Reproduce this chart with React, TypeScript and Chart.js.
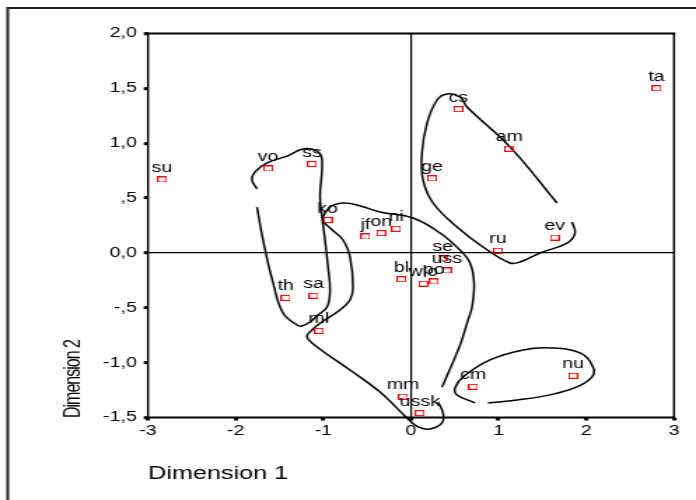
import { useEffect, useRef } from "react";
import { Chart, registerables } from "chart.js";

Chart.register(...registerables);

// ---- data ----
const pointLabels = ["ta", "cs", "am", "ge", "su", "vo", "ss", "ko", "jf", "on", "ni", "ru", "ev", "se", "uss", "bl", "wlo", "po", "th", "sa", "ml", "mm", "ussk", "cm", "nu"];
const dim1Values = [2.80, 0.54, 1.12, 0.24, -2.84, -1.63, -1.13, -0.95, -0.52, -0.34, -0.17, 0.99, 1.64, 0.36, 0.41, -0.11, 0.14, 0.26, -1.43, -1.11, -1.05, -0.09, 0.10, 0.71, 1.85];
const dim2Values = [1.50, 1.31, 0.95, 0.68, 0.67, 0.77, 0.81, 0.30, 0.15, 0.18, 0.22, 0.02, 0.14, -0.05, -0.16, -0.24, -0.28, -0.26, -0.41, -0.39, -0.71, -1.31, -1.46, -1.22, -1.12];

const xTickValues = [-3, -2, -1, 0, 1, 2, 3];
const xTickLabels = ["-3", "-2", "-1", "0", "1", "2", "3"];
const yTickValues = [-1.5, -1, -0.5, 0, 0.5, 1, 1.5, 2];
const yTickLabels = ["-1,5", "-1,0", "-,5", "0,0", ",5", "1,0", "1,5", "2,0"];

const xTitle = "Dimension 1";
const yTitle = "Dimension 2";

// hand-drawn group outlines (data coordinates)
const curve1X = [-1.757, -1.814, -1.779, -1.643, -1.414, -1.232, -1.072, -1.015, -1.038, -1.015, -0.981, -0.947, -0.924, -0.958, -1.061, -1.152, -1.243, -1.300, -1.460, -1.574, -1.688, -1.757];
const curve1Y = [0.583, 0.665, 0.738, 0.820, 0.883, 0.947, 0.929, 0.847, 0.509, 0.327, 0.117, -0.128, -0.338, -0.493, -0.566, -0.629, -0.666, -0.657, -0.547, -0.273, 0.118, 0.418];

const curve2X = [0.308, 0.365, 0.354, 0.217, 0.080, -0.046, -0.354, -0.696, -1.072, -1.186, -1.129, -1.015, -0.810, -0.696, -0.662, -0.696, -0.776, -0.924, -1.004, -0.924, -0.776, -0.616, -0.354, 0.023, 0.331, 0.559, 0.673, 0.719, 0.696, 0.650, 0.559, 0.354];
const curve2Y = [-1.358, -1.458, -1.549, -1.604, -1.586, -1.504, -1.268, -1.067, -0.857, -0.766, -0.702, -0.629, -0.520, -0.429, -0.311, -0.037, 0.118, 0.227, 0.300, 0.418, 0.455, 0.437, 0.373, 0.318, 0.182, 0.026, -0.092, -0.274, -0.493, -0.612, -0.840, -1.223];

const curve3X = [1.665, 1.129, 0.639, 0.559, 0.411, 0.297, 0.183, 0.125, 0.137, 0.251, 0.525, 0.821, 1.129, 1.243, 1.471, 1.779, 1.871, 1.836];
const curve3Y = [0.455, 0.966, 1.330, 1.421, 1.449, 1.394, 1.184, 0.911, 0.665, 0.455, 0.236, 0.054, -0.092, -0.083, -0.001, 0.090, 0.181, 0.282];

const curve4X = [0.730, 0.525, 0.502, 0.593, 0.901, 1.278, 1.585, 1.928, 2.076, 2.065, 1.893, 1.585, 1.209, 0.878];
const curve4Y = [-1.367, -1.294, -1.231, -1.130, -0.975, -0.884, -0.866, -0.911, -1.039, -1.130, -1.221, -1.294, -1.340, -1.367];

// ---- layout ----
const PAGE_W = 696;
const PAGE_H = 500;
const STRETCH = 1.4;
const LW = Math.round(PAGE_W / STRETCH);
const SX = PAGE_W / LW;
const FONT = '"Liberation Sans", Arial, Helvetica, sans-serif';

const toXY = (xs: number[], ys: number[]) => xs.map((x, i) => ({ x, y: ys[i] }));

export default function App() {
  const ref = useRef<HTMLCanvasElement>(null);

  useEffect(() => {
    const canvas = ref.current;
    if (!canvas) return;

    const marker = document.createElement("canvas");
    marker.width = 7;
    marker.height = 6;
    const mctx = marker.getContext("2d")!;
    mctx.strokeStyle = "#ff0000";
    mctx.lineWidth = 1;
    mctx.strokeRect(0.5, 0.5, 6, 5);

    const plotLeft = 148 / SX;
    const plotRight = 674 / SX;
    const plotTop = 33.5;
    const plotBottom = 417.5;

    const decorPlugin = {
      id: "decor",
      afterDatasetsDraw(chart: any) {
        const ctx = chart.ctx;
        const meta = chart.getDatasetMeta(0);
        ctx.save();
        ctx.font = `14px ${FONT}`;
        ctx.fillStyle = "#000";
        ctx.textAlign = "center";
        ctx.textBaseline = "alphabetic";
        meta.data.forEach((el: any, i: number) => {
          ctx.fillText(pointLabels[i], el.x, el.y - 7.5);
        });
        ctx.restore();
      },
      afterDraw(chart: any) {
        const ctx = chart.ctx;
        const { left, right, top, bottom } = chart.chartArea;
        ctx.save();
        ctx.strokeStyle = "#000";
        // plot frame
        ctx.lineWidth = 2;
        ctx.beginPath();
        ctx.moveTo(left - 1, top);
        ctx.lineTo(right + 1, top);
        ctx.moveTo(left - 1, bottom);
        ctx.lineTo(right + 1, bottom);
        ctx.stroke();
        ctx.lineWidth = 1.45;
        ctx.beginPath();
        ctx.moveTo(left, top);
        ctx.lineTo(left, bottom);
        ctx.moveTo(right, top);
        ctx.lineTo(right, bottom);
        ctx.stroke();
        // outer frame
        ctx.strokeStyle = "#222";
        ctx.lineWidth = 2;
        ctx.beginPath();
        ctx.moveTo(5.5, PAGE_H + 5);
        ctx.lineTo(5.5, 8);
        ctx.lineTo(LW + 5, 8);
        ctx.stroke();
        // titles
        ctx.fillStyle = "#000";
        ctx.font = `18px ${FONT}`;
        ctx.textAlign = "left";
        ctx.textBaseline = "alphabetic";
        ctx.fillText(xTitle, left, 479);
        ctx.translate(80 / SX, 418);
        ctx.rotate(-Math.PI / 2);
        ctx.font = `16px ${FONT}`;
        try {
          (ctx as any).letterSpacing = "-1px";
        } catch (e) {
          /* ignore */
        }
        ctx.fillText(yTitle, 0, 0);
        ctx.restore();
      },
    };

    const curveStyle = {
      showLine: true,
      pointRadius: 0,
      pointHoverRadius: 0,
      borderColor: "#000",
      borderWidth: 1.5,
      tension: 0.4,
      fill: false,
      clip: false as const,
    };

    const chart = new Chart(canvas, {
      type: "scatter",
      data: {
        datasets: [
          {
            data: toXY(dim1Values, dim2Values),
            pointStyle: marker as any,
            pointRadius: 4,
            pointHoverRadius: 4,
            showLine: false,
          },
          { data: toXY(curve1X, curve1Y), ...curveStyle },
          { data: toXY(curve2X, curve2Y), ...curveStyle },
          { data: toXY(curve3X, curve3Y), ...curveStyle },
          { data: toXY(curve4X, curve4Y), ...curveStyle },
        ],
      },
      options: {
        responsive: false,
        animation: false,
        devicePixelRatio: 1,
        events: [],
        layout: {
          padding: { left: 0, top: plotTop, right: LW - plotRight, bottom: 0 },
        },
        plugins: {
          legend: { display: false },
          tooltip: { enabled: false },
        },
        scales: {
          x: {
            type: "linear",
            min: -3,
            max: 3,
            afterFit: (s: any) => {
              s.height = PAGE_H - plotBottom;
            },
            border: { display: false },
            grid: {
              color: (c: any) => (c.tick && c.tick.value === 0 ? "#000" : "rgba(0,0,0,0)"),
              lineWidth: 1.2,
              tickColor: "#000",
              tickLength: 3,
              tickWidth: 3,
            },
            ticks: {
              stepSize: 1,
              color: "#000",
              padding: 2,
              maxRotation: 0,
              font: { family: FONT, size: 14 },
              callback: (v: any) => {
                const i = xTickValues.findIndex((t) => Math.abs(t - Number(v)) < 1e-6);
                return i >= 0 ? xTickLabels[i] : "";
              },
            },
          },
          y: {
            type: "linear",
            min: -1.5,
            max: 2,
            afterFit: (s: any) => {
              s.width = plotLeft;
            },
            border: { display: false },
            grid: {
              color: (c: any) => (c.tick && c.tick.value === 0 ? "#000" : "rgba(0,0,0,0)"),
              lineWidth: 1.3,
              tickColor: "#000",
              tickLength: 3,
              tickWidth: 3,
            },
            ticks: {
              stepSize: 0.5,
              color: "#000",
              padding: 5,
              font: { family: FONT, size: 14 },
              callback: (v: any) => {
                const i = yTickValues.findIndex((t) => Math.abs(t - Number(v)) < 1e-6);
                return i >= 0 ? yTickLabels[i] : "";
              },
            },
          },
        },
      },
      plugins: [decorPlugin],
    });

    return () => chart.destroy();
  }, []);

  return (
    <div
      style={{
        position: "absolute",
        left: 0,
        top: 0,
        width: PAGE_W,
        height: PAGE_H,
        overflow: "hidden",
        background: "#fff",
      }}
    >
      <div style={{ width: LW, height: PAGE_H, transform: `scaleX(${SX})`, transformOrigin: "0 0" }}>
        <canvas ref={ref} width={LW} height={PAGE_H} style={{ display: "block" }} />
      </div>
    </div>
  );
}
